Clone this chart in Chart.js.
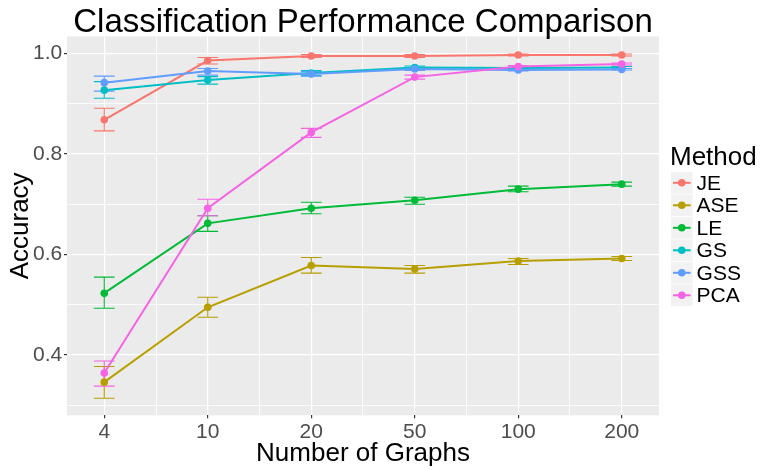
<!DOCTYPE html>
<html>
<head>
<meta charset="utf-8">
<script src="https://cdn.jsdelivr.net/npm/chart.js@4.4.1/dist/chart.umd.min.js"></script>
<style>
  body { margin: 0; background: #fff; }
  canvas { display: block; }
</style>
</head>
<body>
<canvas id="perfChart" width="782" height="471"></canvas>
<script>
const graphCounts = ['4', '10', '20', '50', '100', '200'];
const methods = ['JE', 'ASE', 'LE', 'GS', 'GSS', 'PCA'];
const methodColors = ['#F8766D', '#B79F00', '#00BA38', '#00BFC4', '#619CFF', '#F564E3'];

const jeMean = [0.868, 0.986, 0.995, 0.995, 0.997, 0.997];
const jeLow = [0.846, 0.979, 0.992, 0.992, 0.995, 0.995];
const jeHigh = [0.891, 0.992, 0.998, 0.998, 0.999, 0.999];

const aseMean = [0.346, 0.495, 0.578, 0.571, 0.587, 0.592];
const aseLow = [0.314, 0.475, 0.563, 0.563, 0.580, 0.588];
const aseHigh = [0.377, 0.515, 0.594, 0.578, 0.592, 0.596];

const leMean = [0.523, 0.662, 0.692, 0.708, 0.730, 0.740];
const leLow = [0.493, 0.646, 0.681, 0.700, 0.725, 0.736];
const leHigh = [0.555, 0.677, 0.704, 0.714, 0.736, 0.744];

const gsMean = [0.927, 0.947, 0.961, 0.972, 0.971, 0.972];
const gsLow = [0.911, 0.939, 0.956, 0.969, 0.969, 0.970];
const gsHigh = [0.944, 0.954, 0.966, 0.975, 0.973, 0.974];

const gssMean = [0.942, 0.965, 0.959, 0.969, 0.967, 0.968];
const gssLow = [0.925, 0.957, 0.955, 0.966, 0.965, 0.967];
const gssHigh = [0.955, 0.970, 0.964, 0.972, 0.969, 0.970];

const pcaMean = [0.364, 0.692, 0.843, 0.953, 0.974, 0.979];
const pcaLow = [0.338, 0.677, 0.833, 0.949, 0.972, 0.977];
const pcaHigh = [0.388, 0.710, 0.851, 0.957, 0.976, 0.981];

const yMajor = [0.4, 0.6, 0.8, 1.0];
const yMinor = [0.3, 0.5, 0.7, 0.9];

const means = [jeMean, aseMean, leMean, gsMean, gssMean, pcaMean];
const lows = [jeLow, aseLow, leLow, gsLow, gssLow, pcaLow];
const highs = [jeHigh, aseHigh, leHigh, gsHigh, gssHigh, pcaHigh];

const FONT = '"Liberation Sans", Arial, sans-serif';

const isMajorY = (v) => yMajor.some((m) => Math.abs(m - v) < 1e-6);

const datasets = methods.map((name, i) => ({
  label: name,
  data: means[i].map((v, j) => ({ x: j, y: v })),
  low: lows[i],
  high: highs[i],
  borderColor: methodColors[i],
  backgroundColor: methodColors[i],
  borderWidth: 2,
  pointRadius: 3.8,
  pointHoverRadius: 3.8,
  pointBorderWidth: 0,
  tension: 0,
  order: methods.length - i,
}));

// grey panel, error bars, title and the legend on the right
const ggPlugin = {
  id: 'ggStyle',
  beforeDraw(chart) {
    const { ctx, chartArea: a } = chart;
    ctx.save();
    ctx.fillStyle = '#EBEBEB';
    ctx.fillRect(a.left, a.top, a.right - a.left, a.bottom - a.top);
    ctx.restore();
  },
  beforeDatasetsDraw(chart) {
    const { ctx, scales: { x, y } } = chart;
    ctx.save();
    ctx.lineWidth = 1.1;
    chart.data.datasets.forEach((ds) => {
      ctx.strokeStyle = ds.borderColor;
      ds.data.forEach((p, j) => {
        const cx = x.getPixelForValue(p.x);
        const hw = x.getPixelForValue(p.x + 0.1) - cx;
        const yl = y.getPixelForValue(ds.low[j]);
        const yh = y.getPixelForValue(ds.high[j]);
        ctx.beginPath();
        ctx.moveTo(cx - hw, yh); ctx.lineTo(cx + hw, yh);
        ctx.moveTo(cx, yh); ctx.lineTo(cx, yl);
        ctx.moveTo(cx - hw, yl); ctx.lineTo(cx + hw, yl);
        ctx.stroke();
      });
    });
    ctx.restore();
  },
  afterDraw(chart) {
    const { ctx, chartArea: a } = chart;
    ctx.save();
    ctx.fillStyle = '#000';
    ctx.font = '33px ' + FONT;
    ctx.textAlign = 'center';
    ctx.textBaseline = 'alphabetic';
    ctx.fillText('Classification Performance Comparison', (a.left + a.right) / 2, 32);

    // legend
    const lx = 671, top = 172, key = 21.6, gap = 0.9;
    ctx.textAlign = 'left';
    ctx.font = '26px ' + FONT;
    ctx.fillText('Method', 670, 165);
    ctx.font = '21px ' + FONT;
    ctx.textBaseline = 'middle';
    chart.data.datasets.forEach((ds, i) => {
      const ky = top + i * (key + gap);
      ctx.fillStyle = '#F2F2F2';
      ctx.fillRect(lx, ky, key, key);
      ctx.strokeStyle = ds.borderColor;
      ctx.lineWidth = 2;
      ctx.beginPath();
      ctx.moveTo(lx + 2, ky + key / 2);
      ctx.lineTo(lx + key - 2, ky + key / 2);
      ctx.stroke();
      ctx.fillStyle = ds.borderColor;
      ctx.beginPath();
      ctx.arc(lx + key / 2, ky + key / 2, 3.8, 0, Math.PI * 2);
      ctx.fill();
      ctx.fillStyle = '#000';
      ctx.fillText(ds.label, lx + key + 4, ky + key / 2 + 1);
    });
    ctx.restore();
  },
};

new Chart(document.getElementById('perfChart'), {
  type: 'line',
  data: { datasets },
  plugins: [ggPlugin],
  options: {
    responsive: false,
    animation: false,
    devicePixelRatio: 1,
    layout: { padding: { top: 36.4, right: 123, bottom: 0, left: 0 } },
    plugins: {
      legend: { display: false },
      tooltip: { enabled: false },
    },
    scales: {
      x: {
        type: 'linear',
        min: -0.36,
        max: 5.36,
        afterBuildTicks: (scale) => {
          scale.ticks = [0, 0.5, 1, 1.5, 2, 2.5, 3, 3.5, 4, 4.5, 5].map((v) => ({ value: v }));
        },
        afterFit: (scale) => { scale.height = 55.7; },
        border: { display: false },
        grid: {
          color: '#FFFFFF',
          lineWidth: (c) => (Number.isInteger(c.tick.value) ? 1.2 : 0.8),
          tickLength: 3,
          tickColor: (c) => (Number.isInteger(c.tick.value) ? '#333333' : 'rgba(0,0,0,0)'),
        },
        ticks: {
          autoSkip: false,
          maxRotation: 0,
          padding: 1.5,
          color: '#4D4D4D',
          font: { family: FONT, size: 21 },
          callback: (v) => (Number.isInteger(v) ? graphCounts[v] : ''),
        },
        title: {
          display: true,
          text: 'Number of Graphs',
          color: '#000',
          font: { family: FONT, size: 26 },
          padding: { top: 0, bottom: 2 },
        },
      },
      y: {
        type: 'linear',
        min: 0.28,
        max: 1.034,
        afterBuildTicks: (scale) => {
          scale.ticks = yMinor.concat(yMajor).sort((p, q) => p - q).map((v) => ({ value: v }));
        },
        afterFit: (scale) => { scale.width = 67; },
        border: { display: false },
        grid: {
          color: '#FFFFFF',
          lineWidth: (c) => (isMajorY(c.tick.value) ? 1.2 : 0.8),
          tickLength: 3,
          tickColor: (c) => (isMajorY(c.tick.value) ? '#333333' : 'rgba(0,0,0,0)'),
        },
        ticks: {
          autoSkip: false,
          padding: 1.7,
          color: '#4D4D4D',
          font: { family: FONT, size: 21 },
          callback: (v) => (isMajorY(v) ? v.toFixed(1) : ''),
        },
        title: {
          display: true,
          text: 'Accuracy',
          color: '#000',
          font: { family: FONT, size: 26 },
          padding: { top: 5, bottom: 0 },
        },
      },
    },
  },
});
</script>
</body>
</html>
